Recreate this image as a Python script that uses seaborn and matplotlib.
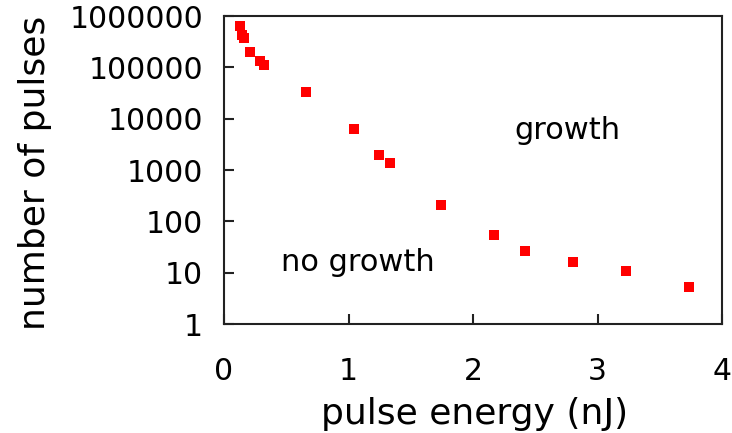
import matplotlib
matplotlib.use("Agg")
import matplotlib.pyplot as plt
import seaborn as sns
import pandas as pd
from matplotlib.ticker import FixedLocator, FixedFormatter, NullLocator

energy = [0.128, 0.145, 0.16, 0.206, 0.289, 0.321, 0.661, 1.047, 1.242, 1.336,
          1.743, 2.171, 2.42, 2.803, 3.227, 3.733]
pulses = [650000, 430000, 376000, 198000, 130000, 112000, 33700, 6300, 1970, 1357,
          212, 53.6, 26.8, 16, 10.8, 5.3]
ytick_vals = [1, 10, 100, 1000, 10000, 100000, 1000000]
ytick_labels = ["1", "10", "100", "1000", "10000", "100000", "1000000"]
xtick_vals = [0, 1, 2, 3, 4]
xtick_labels = ["0", "1", "2", "3", "4"]

sns.set_theme(style="white")
plt.rcParams['font.family'] = ['DejaVu Sans']
plt.rcParams['text.color'] = 'black'

df = pd.DataFrame({"energy": energy, "pulses": pulses})

fig = plt.figure(figsize=(7.32, 4.33), dpi=100)
ax = fig.add_axes([224/732, 1 - 324/433, (722-224)/732, (324-16)/433])
sns.scatterplot(data=df, x="energy", y="pulses", marker="s", color="#ff0000",
                s=55, linewidth=0, ax=ax, zorder=3)
ax.set_yscale("log")
ax.set_xlim(0, 4)
ax.set_ylim(1, 1000000)
ax.yaxis.set_major_locator(FixedLocator(ytick_vals))
ax.yaxis.set_major_formatter(FixedFormatter(ytick_labels))
ax.yaxis.set_minor_locator(NullLocator())
ax.set_xticks(xtick_vals)
ax.set_xticklabels(xtick_labels)
for sp in ax.spines.values():
    sp.set_color("#222222")
    sp.set_linewidth(1.5)
ax.tick_params(axis="both", direction="in", length=7, width=1.5, colors="#222222",
               labelcolor="black", labelsize=21.5)
ax.tick_params(axis="y", left=True, right=False, pad=15)
ax.tick_params(axis="x", bottom=True, top=False, pad=24)
ax.set_xlabel("pulse energy (nJ)", fontsize=26, color="black")
ax.set_ylabel("number of pulses", fontsize=26, color="black")
ax.xaxis.set_label_coords(0.504, -0.237)
ax.yaxis.set_label_coords(-0.345, 0.49)
ax.text(2.755, 6000, "growth", fontsize=22, ha="center", va="center", color="black")
ax.text(1.076, 16, "no growth", fontsize=22, ha="center", va="center", color="black")
ax.grid(False)
fig.savefig("out.png", dpi=100)
